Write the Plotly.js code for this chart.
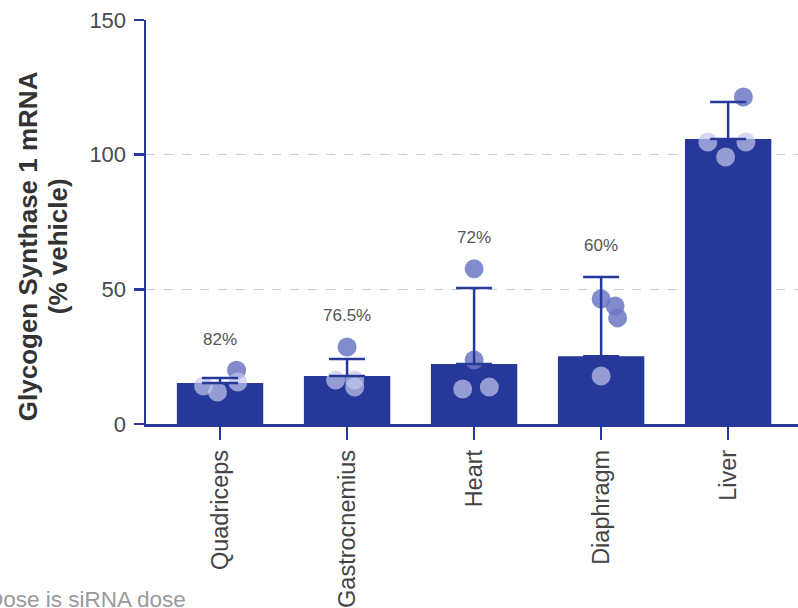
<!DOCTYPE html>
<html>
<head>
<meta charset="utf-8">
<script src="https://cdn.plot.ly/plotly-3.0.1.min.js"></script>
<style>html,body{margin:0;padding:0;background:#fff;}#chart{width:798px;height:608px;}</style>
</head>
<body>
<div id="chart"></div>
<script>
// ---- data ----
const categories = ['Quadriceps', 'Gastrocnemius', 'Heart', 'Diaphragm', 'Liver'];
const means = [15.2, 17.8, 22.3, 25.2, 105.8];
const errUp = [1.9, 6.3, 28.2, 29.4, 13.8];
const pctLabels = ['82%', '76.5%', '72%', '60%', ''];
const quadriceps = [20.0, 15.6, 14.1, 11.9];
const gastrocnemius = [28.6, 16.3, 16.3, 13.7];
const heart = [57.6, 23.8, 13.7, 13.0];
const diaphragm = [46.4, 43.8, 39.4, 17.8];
const liver = [121.4, 104.7, 104.7, 99.1];
const yTitleLines = ['Glycogen Synthase 1 mRNA', '(% vehicle)'];
const footnote = 'Dose is siRNA dose';

// ---- styling / placement ----
const points = [quadriceps, gastrocnemius, heart, diaphragm, liver];
const jitter = [[0.13, 0.14, -0.13, -0.02], [0, -0.09, 0.06, 0.06], [0, 0, 0.12, -0.09], [0, 0.11, 0.13, 0], [0.12, -0.16, 0.14, -0.02]];
const NAVY = '#26389a';
const FONT = 'Liberation Sans, Arial, sans-serif';
const idx = categories.map((c, i) => i);

const dotX = [], dotY = [], dotC = [];
points.forEach((arr, i) => {
  arr.forEach((v, j) => {
    dotX.push(i + jitter[i][j]);
    dotY.push(v);
    dotC.push(v > means[i] + 1 ? 'rgba(108,120,196,0.85)' : 'rgba(195,199,235,0.7)');
  });
});

const traces = [
  {type: 'bar', x: idx, y: means, width: 0.68, marker: {color: NAVY, line: {width: 0}}, hoverinfo: 'skip'},
  {type: 'scatter', mode: 'markers', x: dotX, y: dotY, marker: {size: 19, color: dotC, line: {width: 0}}, hoverinfo: 'skip', cliponaxis: false},
  {type: 'scatter', mode: 'markers', x: idx, y: means, marker: {size: 1, opacity: 0},
   error_y: {type: 'data', symmetric: false, array: errUp, arrayminus: means.map(() => 0), color: NAVY, thickness: 2.5, width: 18},
   hoverinfo: 'skip'}
];

const annotations = pctLabels.map((t, i) => ({
  text: t, x: i, y: Math.max(Math.max(...points[i]), means[i] + errUp[i]), xref: 'x', yref: 'y',
  yshift: 31, showarrow: false, font: {family: FONT, size: 17, color: '#555'}
})).filter(a => a.text);

const titleX = [-0.181, -0.135];
yTitleLines.forEach((t, k) => {
  annotations.push({
    text: '<b>' + t + '</b>', textangle: -90,
    xref: 'paper', yref: 'paper', x: titleX[k], y: 0.44, xanchor: 'center', yanchor: 'middle',
    showarrow: false, font: {family: FONT, size: 26, color: '#333'}
  });
});
annotations.push({
  text: footnote, xref: 'paper', yref: 'paper', x: -0.247, y: -0.434, xanchor: 'left', yanchor: 'middle',
  showarrow: false, font: {family: FONT, size: 22.5, color: '#9a9a9a'}
});

const layout = {
  width: 798, height: 608,
  margin: {l: 146, r: 0, t: 20, b: 184},
  paper_bgcolor: '#fff', plot_bgcolor: '#fff',
  showlegend: false,
  xaxis: {
    range: [-0.583, 4.55], tickvals: idx, ticktext: categories, tickangle: -90,
    ticks: 'outside', ticklen: 13, tickwidth: 2.5, tickcolor: NAVY,
    showline: true, linecolor: NAVY, linewidth: 2.5, showgrid: false, zeroline: false,
    tickfont: {family: FONT, size: 23.5, color: '#444'}, ticklabelstandoff: 1
  },
  yaxis: {
    range: [0, 150], tickvals: [0, 50, 100, 150],
    ticks: 'outside', ticklen: 10, tickwidth: 2.5, tickcolor: NAVY,
    showline: true, linecolor: NAVY, linewidth: 2.5,
    showgrid: true, gridcolor: '#cccccc', griddash: 'dash', gridwidth: 1.5, zeroline: false,
    tickfont: {family: FONT, size: 22, color: '#4a4a4a'}, ticklabelstandoff: 3
  },
  annotations: annotations
};

Plotly.newPlot('chart', traces, layout, {displayModeBar: false, staticPlot: true});
</script>
</body>
</html>
